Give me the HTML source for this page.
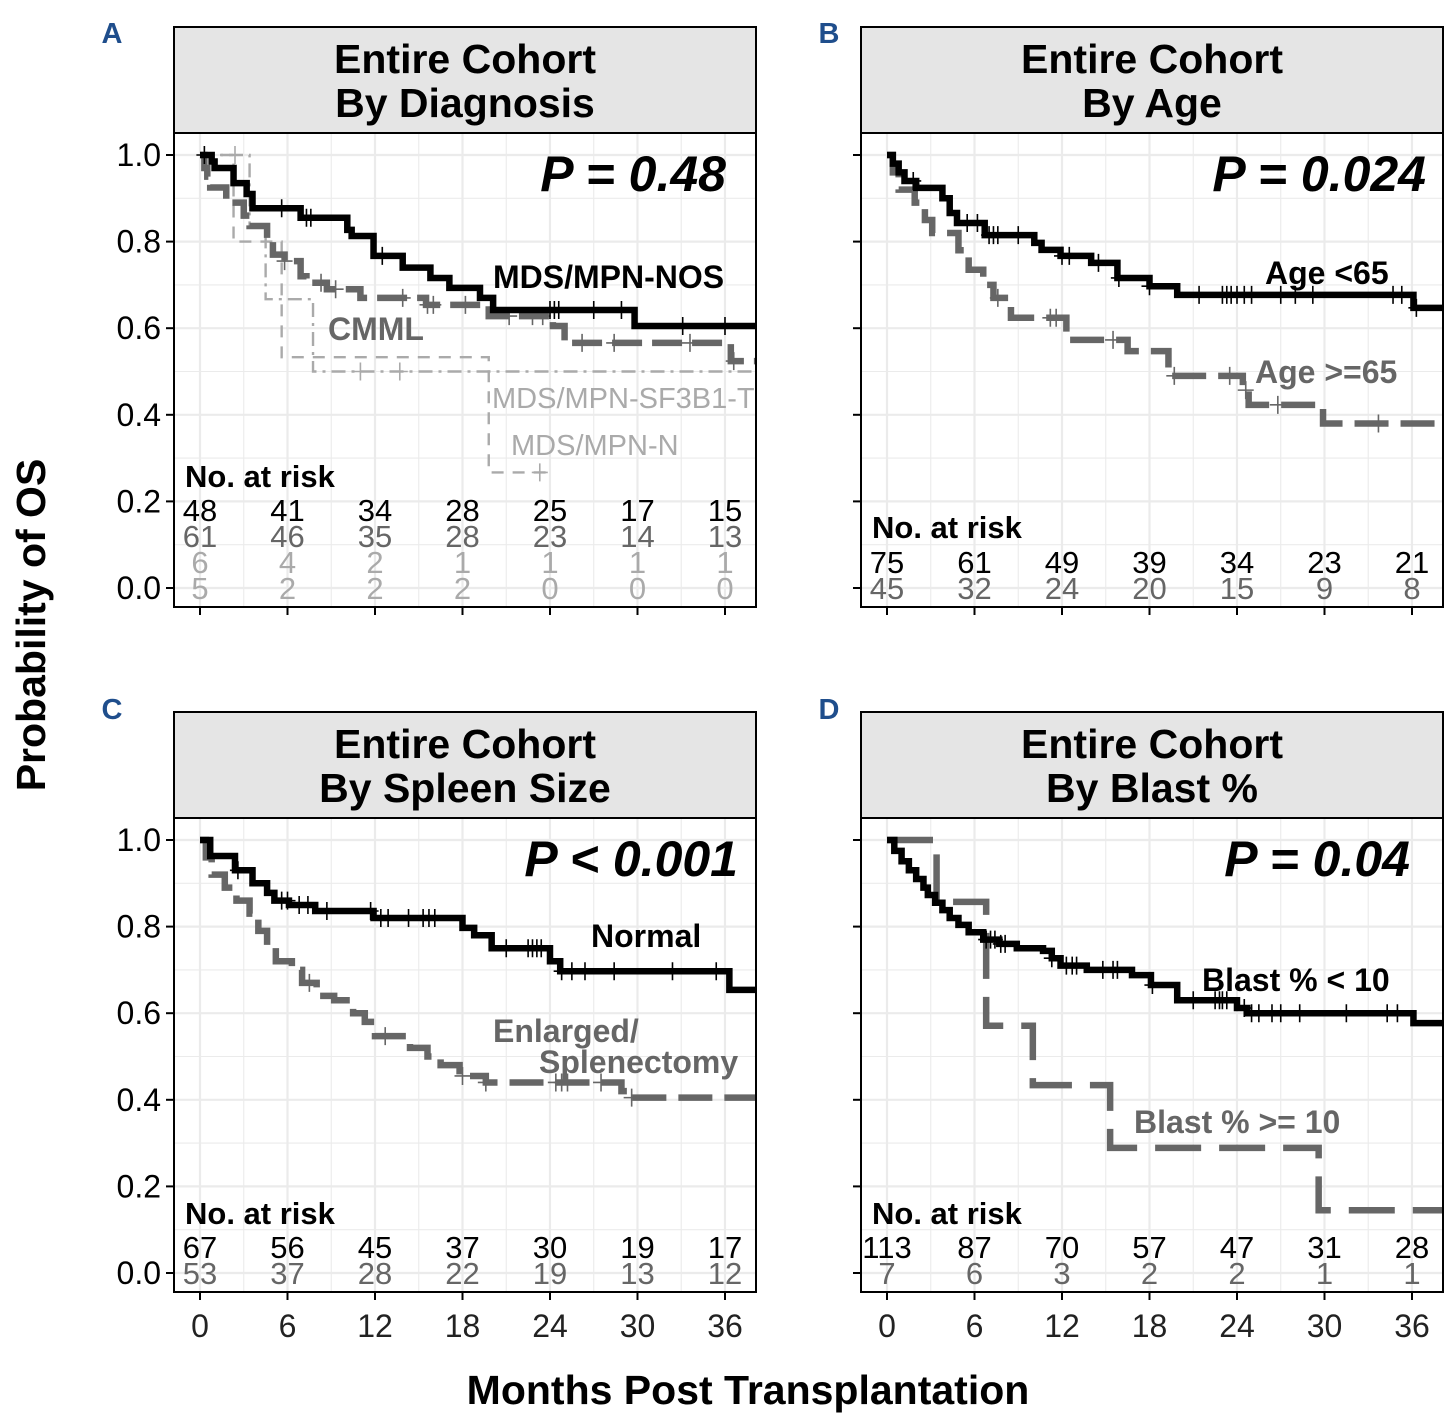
<!DOCTYPE html>
<html><head><meta charset="utf-8"><style>
body{margin:0;background:#fff}
svg{display:block;font-family:"Liberation Sans",Arial,sans-serif}
</style></head><body>
<svg id="fig" width="1456" height="1424" viewBox="0 0 1456 1424" xmlns="http://www.w3.org/2000/svg">
<rect width="1456" height="1424" fill="#fff"/>
<text x="0" y="0" transform="translate(45,625) rotate(-90)" text-anchor="middle" font-size="41" font-weight="bold">Probability of OS</text>
<text x="748" y="1404" text-anchor="middle" font-size="41" font-weight="bold">Months Post Transplantation</text>
</svg>
<script>
// ---- data ----
const xTicks = [0, 6, 12, 18, 24, 30, 36];
const yTicks = [0.0, 0.2, 0.4, 0.6, 0.8, 1.0];
const yTickLabels = ["0.0", "0.2", "0.4", "0.6", "0.8", "1.0"];

// Panel A
const nosT = [0, 0.8, 1.0, 2.3, 3.2, 3.6, 6.9, 10.1, 10.4, 11.9, 13.9, 15.8, 17.1, 19.2, 20.1, 29.8];
const nosS = [1, 0.985, 0.97, 0.935, 0.91, 0.877, 0.855, 0.827, 0.813, 0.767, 0.74, 0.716, 0.693, 0.67, 0.642, 0.605];
const nosC = [0.3, 5.6, 7.3, 7.6, 12.5, 24.0, 24.3, 24.6, 27.0, 28.9, 33.1, 36.0];
const cmmlT = [0, 0.3, 0.5, 0.7, 1.8, 3.0, 3.4, 4.6, 5.0, 5.8, 6.9, 7.3, 8.7, 11.0, 15.5, 19.8, 24.2, 25.0, 36.4];
const cmmlS = [1, 0.97, 0.95, 0.925, 0.89, 0.86, 0.836, 0.80, 0.77, 0.755, 0.72, 0.705, 0.69, 0.67, 0.654, 0.628, 0.605, 0.566, 0.524];
const cmmlC = [5.8, 8.3, 9.3, 13.9, 15.6, 16.0, 18.2, 21.2, 22.8, 23.5, 26.2, 28.4, 33.6, 36.6];
const sfT = [0, 3.4, 4.5, 7.75];
const sfS = [1, 0.833, 0.667, 0.5];
const sfC = [2.4, 11.0, 13.7];
const nT = [0, 2.3, 5.6, 19.8];
const nS = [1, 0.8, 0.533, 0.267];
const nC = [23.3];
const riskA = [[48, 41, 34, 28, 25, 17, 15], [61, 46, 35, 28, 23, 14, 13], [6, 4, 2, 1, 1, 1, 1], [5, 2, 2, 2, 0, 0, 0]];

// Panel B
const youngT = [0, 0.4, 0.8, 1.2, 2.0, 3.8, 4.3, 4.8, 6.7, 10.1, 10.6, 11.9, 14.0, 15.8, 18.0, 19.9, 36.1];
const youngS = [1, 0.98, 0.96, 0.94, 0.924, 0.90, 0.866, 0.843, 0.815, 0.797, 0.781, 0.767, 0.751, 0.716, 0.697, 0.677, 0.647];
const youngC = [1.8, 5.5, 6.2, 7.0, 7.3, 7.6, 9.0, 12.0, 12.5, 14.5, 15.9, 18.0, 21.4, 23.0, 23.3, 23.6, 24.0, 24.5, 25.0, 27.0, 28.0, 29.2, 34.7, 35.3, 36.3];
const oldT = [0, 0.4, 0.8, 1.9, 2.6, 3.1, 4.9, 5.6, 6.6, 7.3, 8.5, 12.3, 16.5, 19.3, 24.4, 24.8, 29.9];
const oldS = [1, 0.96, 0.92, 0.89, 0.85, 0.82, 0.78, 0.735, 0.70, 0.67, 0.624, 0.573, 0.547, 0.49, 0.457, 0.423, 0.38];
const oldC = [7.6, 11.2, 11.6, 15.5, 19.7, 23.5, 24.6, 26.8, 33.7];
const riskB = [[75, 61, 49, 39, 34, 23, 21], [45, 32, 24, 20, 15, 9, 8]];

// Panel C
const normT = [0, 0.7, 2.4, 3.6, 4.6, 5.1, 6.1, 7.9, 11.9, 18.0, 18.8, 20.0, 24.0, 24.7, 36.3];
const normS = [1, 0.963, 0.93, 0.90, 0.878, 0.86, 0.85, 0.836, 0.82, 0.797, 0.78, 0.75, 0.72, 0.697, 0.654];
const normC = [2.6, 5.6, 6.0, 6.8, 7.4, 8.7, 11.7, 12.4, 12.9, 14.3, 15.3, 15.7, 16.1, 21.0, 22.5, 22.8, 23.1, 23.4, 24.8, 25.5, 26.4, 28.4, 32.4, 35.4];
const enlT = [0, 0.4, 0.8, 1.7, 2.5, 3.4, 4.0, 4.6, 5.2, 6.3, 7.0, 8.0, 9.2, 10.5, 11.3, 12.0, 14.4, 15.6, 16.5, 17.8, 19.6, 28.9, 29.6];
const enlS = [1, 0.96, 0.92, 0.89, 0.86, 0.83, 0.79, 0.755, 0.72, 0.70, 0.67, 0.64, 0.63, 0.60, 0.58, 0.547, 0.52, 0.50, 0.48, 0.455, 0.44, 0.42, 0.405];
const enlC = [7.5, 12.7, 18.0, 19.6, 24.4, 24.8, 25.2, 27.5, 29.6];
const riskC = [[67, 56, 45, 37, 30, 19, 17], [53, 37, 28, 22, 19, 13, 12]];

// Panel D
const lowT = [0, 0.5, 1.0, 1.5, 2.0, 2.5, 2.8, 3.3, 3.8, 4.3, 4.9, 5.6, 6.6, 7.7, 8.9, 10.7, 11.3, 11.9, 13.7, 16.8, 18.1, 19.9, 24.0, 24.7, 36.1];
const lowS = [1, 0.975, 0.951, 0.93, 0.91, 0.89, 0.873, 0.855, 0.838, 0.82, 0.804, 0.787, 0.77, 0.76, 0.75, 0.744, 0.727, 0.71, 0.70, 0.688, 0.665, 0.63, 0.612, 0.60, 0.577];
const lowC = [6.8, 7.1, 7.4, 7.8, 8.1, 11.3, 12.3, 12.7, 13.0, 14.8, 15.5, 15.8, 18.2, 21.0, 22.5, 22.8, 23.0, 23.3, 24.5, 25.0, 25.5, 26.4, 27.0, 28.3, 31.5, 34.3, 35.0];
const highT = [0, 3.4, 6.8, 10.0, 15.3, 29.6];
const highS = [1, 0.857, 0.571, 0.434, 0.289, 0.145];
const riskD = [[113, 87, 70, 57, 47, 31, 28], [7, 6, 3, 2, 2, 1, 1]];

// ---- drawing ----
const NS = "http://www.w3.org/2000/svg";
const svg = document.getElementById("fig");
function mk(tag, attrs, parent) {
  const e = document.createElementNS(NS, tag);
  for (const k in attrs) e.setAttribute(k, attrs[k]);
  (parent || svg).appendChild(e);
  return e;
}
const PX = 14.583, PY = 433;

function panel(L, T, id, letter, line1, line2, showY) {
  const g = mk("g", {});
  
  
  const W = 582, H = 474;
  const xs = m => L + 26 + m * PX;
  const ys = s => T + 22 + (1 - s) * PY;
  const lab = mk("text", {x: letter.x, y: letter.y, "font-size": 29, "font-weight": "bold", fill: "#1f4e8c", "text-anchor": "middle"}, g);
  lab.textContent = id.toUpperCase();
  
  
  const strip = mk("rect", {x: L, y: T - 106, width: W, height: 106, fill: "#e5e5e5", stroke: "#000", "stroke-width": 2}, g);
  
  
  const t1 = mk("text", {x: L + W / 2, y: T - 60, "text-anchor": "middle", "font-size": 41, "font-weight": "bold"}, g);
  t1.textContent = line1;
  
  
  const t2 = mk("text", {x: L + W / 2, y: T - 16, "text-anchor": "middle", "font-size": 41, "font-weight": "bold"}, g);
  t2.textContent = line2;
  
  
  const clipId = "clip" + id;
  const cp = mk("clipPath", {id: clipId}, g);
  mk("rect", {x: L, y: T, width: W, height: H}, cp);
  const gg = mk("g", {"clip-path": "url(#" + clipId + ")"}, g);
  for (let m = -3; m <= 39; m += 3) {
    const major = m % 6 === 0;
    const gl = mk("line", {x1: xs(m), x2: xs(m), y1: T, y2: T + H, stroke: "#ebebeb", "stroke-width": major ? 2.2 : 1.1}, gg);
    
    
  }
  for (let k = 0; k <= 10; k++) {
    const v = k / 10;
    const gl = mk("line", {x1: L, x2: L + W, y1: ys(v), y2: ys(v), stroke: "#ebebeb", "stroke-width": k % 2 === 0 ? 2.2 : 1.1}, gg);
    
    
  }
  yTicks.forEach((v, i) => {
    const tk = mk("line", {x1: L - 8, x2: L, y1: ys(v), y2: ys(v), stroke: "#000", "stroke-width": 2}, g);
    
    
    if (showY) {
      const tl = mk("text", {x: L - 13, y: ys(v) + 11, "text-anchor": "end", "font-size": 32}, g);
      tl.textContent = yTickLabels[i];
      
      
    }
  });
  xTicks.forEach(m => {
    const tk = mk("line", {x1: xs(m), x2: xs(m), y1: T + H, y2: T + H + 8, stroke: "#000", "stroke-width": 2}, g);
    
    
  });
  return {g: g, gg: gg, xs: xs, ys: ys, L: L, T: T, W: W, H: H};
}

function curve(P, t, s, cens, color, width, dash, endM, name) {
  let d = "M" + P.xs(t[0]) + "," + P.ys(s[0]);
  for (let i = 1; i < t.length; i++) d += "H" + P.xs(t[i]) + "V" + P.ys(s[i]);
  d += "H" + P.xs(endM);
  const a = {d: d, fill: "none", stroke: color, "stroke-width": width, "stroke-linejoin": "miter"};
  if (dash) a["stroke-dasharray"] = dash;
  const p = mk("path", a, P.gg);
  
  
  (cens || []).forEach(c => {
    let v = s[0];
    for (let i = 0; i < t.length; i++) if (t[i] <= c) v = s[i];
    const x = P.xs(c), y = P.ys(v);
    const cm = mk("path", {d: "M" + x + "," + (y - 9) + "V" + (y + 9) + "M" + (x - 8) + "," + y + "H" + (x + 8), stroke: color, "stroke-width": 1.6}, P.gg);
    
    
  });
}

function risk(P, rows, colors, headY, rowY) {
  const h = mk("text", {x: P.L + 11, y: headY, "font-size": 31, "font-weight": "bold"}, P.g);
  h.textContent = "No. at risk";
  
  
  rows.forEach((r, ri) => {
    r.forEach((n, ci) => {
      const tx = mk("text", {x: P.xs(xTicks[ci]), y: rowY[ri], "text-anchor": "middle", "font-size": 31, fill: colors[ri]}, P.g);
      tx.textContent = n;
      
      
    });
  });
}

function border(P) {
  const b = mk("rect", {x: P.L, y: P.T, width: P.W, height: P.H, fill: "none", stroke: "#000", "stroke-width": 2}, P.g);
  
  
}

function label(P, x, y, txt, color, bold, size, name) {
  const t = mk("text", {x: x, y: y, "font-size": size, fill: color, "font-weight": bold ? "bold" : "normal"}, P.g);
  t.textContent = txt;
  
  
}
function pval(P, xr, y, txt) {
  const t = mk("text", {x: xr, y: y, "font-size": 50, "font-weight": "bold", "font-style": "italic", "text-anchor": "end"}, P.g);
  t.textContent = txt;
  
  
}
function xLabels(P) {
  xTicks.forEach(m => {
    const t = mk("text", {x: P.xs(m), y: P.T + P.H + 45, "text-anchor": "middle", "font-size": 32, fill: "#222"}, P.g);
    t.textContent = m;
    
    
  });
}

// Panel A
const A = panel(174, 133, "a", {x: 112, y: 43}, "Entire Cohort", "By Diagnosis", true);
curve(A, nT, nS, nC, "#aaaaaa", 2.4, "12,9", 23.8, "curve-mds-mpn-n");
curve(A, sfT, sfS, sfC, "#aaaaaa", 2.4, "14,6,3,6", 38.5, "curve-mds-mpn-sf3b1-t");
curve(A, cmmlT, cmmlS, cmmlC, "#666666", 6.5, "30,10", 38.5, "curve-cmml");
curve(A, nosT, nosS, nosC, "#000000", 6.5, null, 38.5, "curve-mds-mpn-nos");
pval(A, 726, 191, "P = 0.48");
label(A, 493, 288, "MDS/MPN-NOS", "#000", true, 32, "label-mds-mpn-nos");
label(A, 328, 340, "CMML", "#666", true, 32, "label-cmml");
label(A, 492, 408, "MDS/MPN-SF3B1-T", "#aaa", false, 29, "label-mds-mpn-sf3b1-t");
label(A, 511, 455, "MDS/MPN-N", "#aaa", false, 29, "label-mds-mpn-n");
risk(A, riskA, ["#000", "#666", "#aaa", "#aaa"], 487, [521, 547, 573, 599]);
border(A);

// Panel B
const B = panel(861, 133, "b", {x: 829, y: 43}, "Entire Cohort", "By Age", false);
curve(B, oldT, oldS, oldC, "#666666", 6.5, "34,12", 38.5, "curve-age-65-plus");
curve(B, youngT, youngS, youngC, "#000000", 6.5, null, 38.5, "curve-age-under-65");
pval(B, 1426, 191, "P = 0.024");
label(B, 1265, 284, "Age <65", "#000", true, 32, "label-age-under-65");
label(B, 1255, 383, "Age >=65", "#666", true, 32, "label-age-65-plus");
risk(B, riskB, ["#000", "#666"], 538, [573, 599]);
border(B);

// Panel C
const C = panel(174, 818, "c", {x: 112, y: 719}, "Entire Cohort", "By Spleen Size", true);
curve(C, enlT, enlS, enlC, "#666666", 6.5, "34,12", 38.5, "curve-enlarged-splenectomy");
curve(C, normT, normS, normC, "#000000", 6.5, null, 38.5, "curve-normal-spleen");
pval(C, 738, 876, "P < 0.001");
label(C, 591, 947, "Normal", "#000", true, 32, "label-normal");
label(C, 493, 1042, "Enlarged/", "#666", true, 32, "label-enlarged");
label(C, 539, 1073, "Splenectomy", "#666", true, 32, "label-splenectomy");
risk(C, riskC, ["#000", "#666"], 1224, [1258, 1284]);
border(C);
xLabels(C);

// Panel D
const D = panel(861, 818, "d", {x: 829, y: 719}, "Entire Cohort", "By Blast %", false);
curve(D, highT, highS, [], "#666666", 6.5, "46,18", 38.5, "curve-blast-10-plus");
curve(D, lowT, lowS, lowC, "#000000", 6.5, null, 38.5, "curve-blast-under-10");
pval(D, 1410, 876, "P = 0.04");
label(D, 1202, 991, "Blast % < 10", "#000", true, 32, "label-blast-under-10");
label(D, 1134, 1133, "Blast % >= 10", "#666", true, 32, "label-blast-10-plus");
risk(D, riskD, ["#000", "#666"], 1224, [1258, 1284]);
border(D);
xLabels(D);
</script>
</body></html>
